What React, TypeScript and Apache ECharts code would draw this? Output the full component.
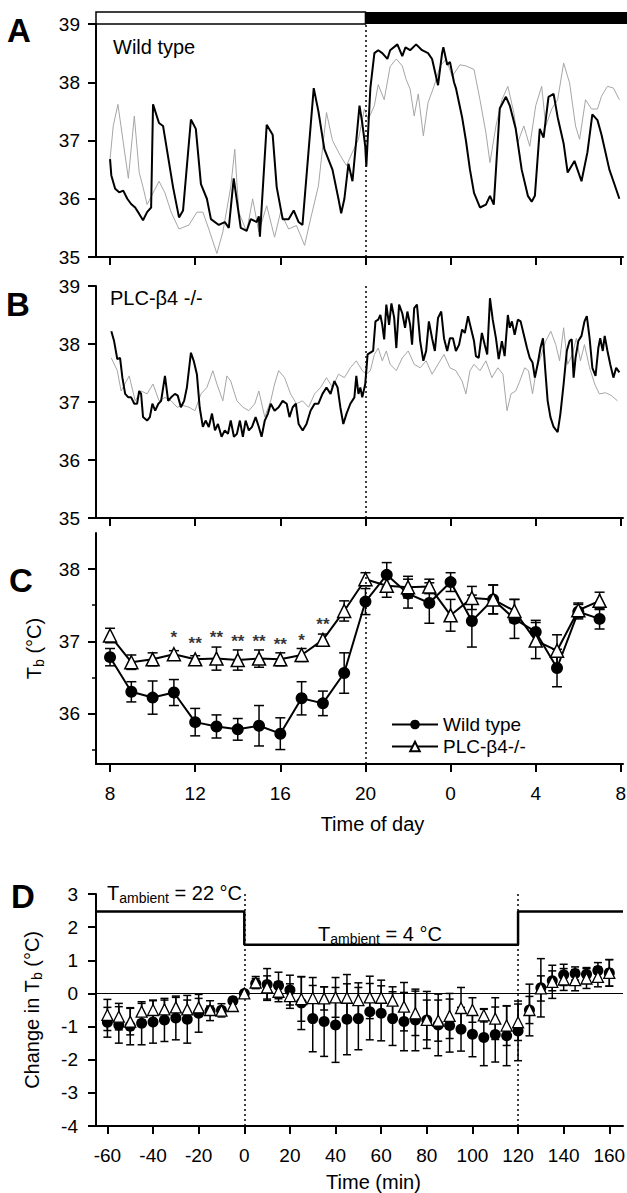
import React, { useEffect, useRef } from "react";
import * as echarts from "echarts";

const FONT = "'Liberation Sans', Arial, Helvetica, sans-serif";

// ---------- Panel A: wild type, two animals (hour of day, Tb °C) ----------
const aBlackTrace: number[][] = [
  [8.0, 36.68], [8.06, 36.4], [8.24, 36.17], [8.43, 36.11], [8.62, 36.14], [8.81, 36.0], [8.99, 35.91], [9.18, 35.85],
  [9.37, 35.74], [9.55, 35.63], [9.74, 35.77], [9.93, 35.85], [10.02, 37.62], [10.3, 37.3], [10.49, 37.25], [10.96, 36.2],
  [11.24, 35.68], [11.43, 35.8], [11.8, 37.36], [12.03, 37.2], [12.27, 36.25], [12.55, 36.0], [12.74, 35.65], [13.11, 35.55],
  [13.39, 35.6], [13.58, 35.5], [13.81, 36.35], [14.14, 35.5], [14.42, 35.45], [14.61, 35.65], [14.89, 35.6], [14.99, 35.7],
  [15.04, 35.35], [15.36, 37.27], [15.64, 37.1], [15.83, 36.2], [16.11, 35.65], [16.39, 35.65], [16.63, 35.8], [16.86, 35.6],
  [17.04, 35.55], [17.57, 37.9], [17.79, 37.5], [18.07, 36.85], [18.45, 36.5], [18.73, 36.0], [18.86, 35.75], [19.01, 36.0],
  [19.2, 36.6], [19.39, 36.3], [19.72, 37.6], [19.85, 37.3], [19.99, 36.9], [20.04, 36.55], [20.23, 37.9], [20.42, 38.5],
  [20.6, 38.55], [20.79, 38.5], [21.03, 38.4], [21.16, 38.55], [21.5, 38.65], [21.73, 38.45], [21.88, 38.6], [22.1, 38.55],
  [22.38, 38.65], [22.66, 38.55], [22.94, 38.5], [23.13, 38.4], [23.41, 37.95], [23.6, 38.5], [23.66, 38.6], [23.84, 38.3],
  [23.97, 38.35], [24.16, 38.0], [24.25, 37.9], [24.54, 37.4], [24.72, 37.0], [24.91, 36.5], [25.1, 36.1], [25.38, 35.85],
  [25.66, 35.9], [25.85, 36.05], [26.03, 35.9], [26.31, 37.55], [26.6, 37.75], [26.78, 37.6], [27.06, 37.2], [27.34, 36.5],
  [27.63, 36.05], [27.81, 35.95], [27.96, 36.05], [28.19, 37.2], [28.37, 37.05], [28.6, 37.75], [28.84, 37.8], [29.03, 37.4],
  [29.31, 36.95], [29.5, 36.45], [29.82, 36.65], [30.15, 36.3], [30.43, 36.8], [30.66, 37.45], [30.9, 37.35], [31.09, 37.1],
  [31.46, 36.5], [31.65, 36.3], [31.93, 36.0],
];
const aGrayTrace: number[][] = [
  [8.0, 36.68], [8.15, 37.25], [8.37, 37.62], [8.62, 36.97], [8.86, 36.35], [9.14, 37.42], [9.37, 36.45], [9.55, 36.2],
  [9.74, 35.9], [10.3, 36.3], [10.58, 36.1], [10.87, 35.77], [11.24, 35.48], [11.71, 35.55], [12.08, 35.77], [12.36, 35.77],
  [12.64, 35.48], [13.02, 35.06], [13.3, 35.43], [13.67, 36.2], [13.86, 36.85], [14.05, 35.77], [14.42, 35.43], [14.7, 36.0],
  [14.99, 35.43], [15.36, 35.88], [15.73, 35.34], [16.01, 35.77], [16.39, 35.48], [16.76, 35.54], [17.14, 35.2], [17.42, 35.65],
  [17.79, 36.22], [18.17, 37.48], [18.45, 37.0], [18.82, 36.74], [19.11, 36.57], [19.39, 36.8], [19.67, 37.02], [19.95, 37.54],
  [20.13, 37.36], [20.42, 37.6], [20.6, 37.96], [20.88, 37.7], [21.16, 38.27], [21.45, 38.4], [21.73, 38.28], [21.91, 38.05],
  [22.1, 37.88], [22.29, 37.42], [22.48, 37.8], [22.72, 37.08], [22.94, 37.65], [23.22, 37.93], [23.51, 38.28], [23.79, 38.4],
  [24.07, 38.1], [24.44, 38.3], [24.72, 38.28], [25.1, 38.22], [25.38, 37.7], [25.66, 37.13], [25.85, 36.62], [26.13, 37.25],
  [26.41, 37.7], [26.69, 37.93], [26.97, 37.48], [27.16, 36.97], [27.44, 37.25], [27.72, 36.9], [28.0, 37.6], [28.28, 37.93],
  [28.47, 37.25], [28.75, 37.54], [29.03, 37.7], [29.31, 38.33], [29.59, 37.99], [29.87, 37.25], [30.06, 37.02], [30.34, 37.7],
  [30.62, 37.54], [30.9, 37.54], [31.09, 37.76], [31.37, 37.93], [31.65, 37.9], [31.93, 37.7],
];

// ---------- Panel B: PLC-β4 -/-, two animals ----------
const bBlackTrace: number[][] = [
  [8.06, 38.22], [8.19, 38.05], [8.34, 37.74], [8.47, 37.76], [8.58, 37.42], [8.71, 37.14], [8.86, 37.08], [8.99, 37.08],
  [9.14, 36.97], [9.27, 36.97], [9.37, 37.19], [9.46, 37.14], [9.55, 36.74], [9.74, 36.68], [9.87, 36.74], [9.99, 36.97],
  [10.12, 36.85], [10.27, 36.97], [10.4, 37.02], [10.58, 37.45], [10.73, 37.02], [10.87, 37.08], [11.05, 37.14], [11.18, 37.11],
  [11.33, 36.91], [11.48, 37.02], [11.61, 37.25], [11.8, 37.85], [11.93, 37.71], [12.08, 37.48], [12.21, 36.91], [12.36, 36.57],
  [12.49, 36.68], [12.64, 36.57], [12.79, 36.8], [12.93, 36.51], [13.07, 36.62], [13.24, 36.4], [13.39, 36.51], [13.54, 36.45],
  [13.67, 36.68], [13.82, 36.4], [13.96, 36.45], [14.1, 36.68], [14.24, 36.4], [14.37, 36.68], [14.52, 36.51], [14.67, 36.57],
  [14.84, 36.74], [14.99, 36.57], [15.12, 36.4], [15.27, 36.68], [15.42, 36.8], [15.55, 36.97], [15.73, 36.85], [15.92, 36.91],
  [16.11, 37.02], [16.3, 36.97], [16.43, 36.74], [16.58, 36.91], [16.73, 36.97], [16.86, 36.62], [17.05, 36.51], [17.23, 36.62],
  [17.42, 36.85], [17.61, 36.97], [17.79, 36.97], [17.98, 37.14], [18.17, 37.25], [18.36, 37.14], [18.54, 37.36], [18.69, 37.25],
  [18.82, 36.91], [18.96, 36.62], [19.11, 36.8], [19.29, 36.97], [19.48, 37.08], [19.57, 37.45], [19.67, 37.14], [19.76, 37.25],
  [19.85, 37.08], [19.99, 37.31], [20.1, 37.82], [20.23, 37.85], [20.36, 37.88], [20.47, 38.39], [20.6, 38.42], [20.7, 38.5],
  [20.79, 38.33], [20.88, 38.08], [20.98, 38.68], [21.11, 38.33], [21.22, 38.7], [21.35, 38.45], [21.45, 37.93], [21.58, 38.68],
  [21.73, 38.53], [21.86, 38.28], [21.97, 38.56], [22.1, 38.33], [22.19, 37.99], [22.29, 38.62], [22.42, 38.68], [22.57, 38.05],
  [22.72, 37.71], [22.85, 37.88], [22.98, 38.39], [23.13, 38.1], [23.26, 37.88], [23.41, 38.45], [23.56, 38.56], [23.69, 38.1],
  [23.84, 37.88], [23.97, 38.1], [24.11, 38.1], [24.25, 37.88], [24.4, 37.99], [24.54, 38.25], [24.67, 38.19], [24.82, 38.48],
  [24.95, 38.28], [25.1, 38.05], [25.19, 37.79], [25.32, 37.76], [25.47, 38.19], [25.6, 37.99], [25.72, 37.82], [25.85, 38.79],
  [25.98, 38.42], [26.13, 38.1], [26.26, 37.74], [26.41, 38.05], [26.54, 37.79], [26.69, 38.5], [26.78, 38.28], [26.88, 38.39],
  [27.01, 38.16], [27.16, 38.42], [27.29, 38.39], [27.44, 38.16], [27.59, 37.93], [27.72, 37.76], [27.85, 37.68], [27.96, 37.42],
  [28.09, 37.65], [28.22, 37.93], [28.34, 38.1], [28.45, 37.54], [28.56, 37.02], [28.69, 36.74], [28.84, 36.57], [29.03, 36.48],
  [29.16, 36.8], [29.31, 37.31], [29.46, 37.88], [29.59, 38.05], [29.69, 38.08], [29.78, 37.42], [29.87, 37.76], [30.0, 38.05],
  [30.15, 38.14], [30.29, 38.39], [30.4, 38.48], [30.53, 38.1], [30.66, 37.59], [30.81, 37.45], [30.94, 37.93], [31.03, 38.1],
  [31.15, 37.88], [31.24, 38.14], [31.37, 37.88], [31.5, 37.65], [31.65, 37.42], [31.78, 37.59], [31.93, 37.51],
];
const bGrayTrace: number[][] = [
  [8.06, 37.76], [8.34, 37.54], [8.52, 37.19], [8.9, 37.45], [9.18, 37.02], [9.46, 37.19], [9.74, 37.14], [10.02, 37.31],
  [10.3, 37.02], [10.58, 37.08], [10.87, 37.02], [11.15, 36.91], [11.43, 36.94], [11.71, 36.91], [11.99, 36.85], [12.27, 37.14],
  [12.55, 37.25], [12.83, 37.54], [13.02, 37.31], [13.3, 37.02], [13.49, 37.45], [13.67, 37.36], [13.96, 37.02], [14.24, 36.91],
  [14.52, 36.85], [14.8, 36.97], [14.99, 37.19], [15.27, 36.74], [15.55, 37.02], [15.73, 37.31], [15.92, 37.54], [16.2, 37.42],
  [16.48, 37.14], [16.76, 36.97], [17.04, 37.02], [17.33, 36.91], [17.61, 37.14], [17.89, 37.25], [18.17, 37.42], [18.45, 37.25],
  [18.73, 37.48], [19.01, 37.42], [19.29, 37.59], [19.57, 37.71], [19.85, 37.54], [20.04, 37.48], [20.23, 37.54], [20.42, 37.82],
  [20.6, 37.93], [20.79, 37.71], [20.98, 37.88], [21.16, 37.65], [21.45, 37.54], [21.73, 37.76], [22.01, 37.88], [22.29, 37.65],
  [22.57, 37.59], [22.85, 37.71], [23.13, 37.48], [23.41, 37.65], [23.69, 37.82], [23.97, 37.59], [24.25, 37.54], [24.54, 37.36],
  [24.72, 37.14], [24.91, 37.54], [25.1, 37.65], [25.38, 37.54], [25.66, 37.71], [25.94, 37.42], [26.22, 37.59], [26.46, 37.48],
  [26.65, 36.85], [26.84, 37.14], [27.06, 37.19], [27.25, 37.36], [27.48, 37.59], [27.66, 37.54], [27.85, 37.14], [28.04, 37.59],
  [28.22, 37.76], [28.47, 38.05], [28.71, 38.22], [28.94, 37.99], [29.12, 37.71], [29.31, 38.28], [29.5, 37.65], [29.72, 37.82],
  [29.91, 38.1], [30.1, 37.71], [30.29, 37.99], [30.53, 37.59], [30.77, 37.31], [30.99, 37.14], [31.28, 37.16], [31.56, 37.11],
  [31.84, 37.02],
];

// ---------- Panel C: hourly means ± SE ----------
const cHours = [8, 9, 10, 11, 12, 13, 14, 15, 16, 17, 18, 19, 20, 21, 22, 23, 24, 25, 26, 27, 28, 29, 30, 31];
const cWildMean = [36.78, 36.3, 36.22, 36.29, 35.88, 35.82, 35.78, 35.83, 35.72, 36.21, 36.14, 36.56, 37.55, 37.92, 37.66, 37.53, 37.82, 37.28, 37.58, 37.31, 37.13, 36.63, 37.41, 37.31];
const cWildSe = [0.12, 0.14, 0.23, 0.18, 0.19, 0.16, 0.15, 0.28, 0.22, 0.23, 0.17, 0.28, 0.18, 0.17, 0.2, 0.28, 0.13, 0.36, 0.2, 0.27, 0.16, 0.26, 0.1, 0.14];
const cPlcMean = [37.08, 36.71, 36.75, 36.82, 36.75, 36.76, 36.74, 36.76, 36.75, 36.81, 37.02, 37.42, 37.86, 37.77, 37.75, 37.76, 37.36, 37.6, 37.58, 37.42, 37.01, 36.87, 37.43, 37.56];
const cPlcSe = [0.1, 0.1, 0.09, 0.05, 0.05, 0.16, 0.14, 0.12, 0.09, 0.09, 0.08, 0.14, 0.09, 0.16, 0.15, 0.1, 0.22, 0.16, 0.2, 0.16, 0.25, 0.22, 0.1, 0.12];
const cStarHours = [11, 12, 13, 14, 15, 16, 17, 18];
const cStarLevel = [37.12, 37.04, 37.12, 37.07, 37.06, 37.03, 37.08, 37.3];
const cStarText = ["*", "**", "**", "**", "**", "**", "*", "**"];
const hourTicks = [8, 12, 16, 20, 24, 28, 32];

// ---------- Panel D: change in Tb around cold exposure ----------
const dMinutes = [-60, -55, -50, -45, -40, -35, -30, -25, -20, -15, -10, -5, 0, 5, 10, 15, 20, 25, 30, 35, 40, 45, 50, 55, 60, 65, 70, 75, 80, 85, 90, 95, 100, 105, 110, 115, 120, 125, 130, 135, 140, 145, 150, 155, 160];
const dWildMean = [-0.87, -0.95, -0.99, -0.9, -0.86, -0.8, -0.74, -0.78, -0.6, -0.52, -0.51, -0.22, 0, 0.3, 0.27, 0.24, 0.1, -0.29, -0.76, -0.85, -0.95, -0.78, -0.76, -0.55, -0.6, -0.76, -0.85, -0.8, -0.8, -0.95, -0.97, -1.08, -1.23, -1.33, -1.24, -1.28, -1.13, -0.5, 0.17, 0.38, 0.56, 0.6, 0.58, 0.69, 0.62];
const dWildSe = [0.45, 0.55, 0.56, 0.65, 0.64, 0.65, 0.66, 0.72, 0.57, 0.3, 0.2, 0.1, 0, 0.15, 0.48, 0.4, 0.45, 0.8, 1.0, 1.05, 1.13, 1.07, 0.94, 0.85, 0.83, 0.81, 0.88, 0.93, 0.86, 0.93, 0.8, 0.66, 0.68, 0.85, 0.83, 0.9, 0.9, 0.78, 0.88, 0.3, 0.32, 0.2, 0.2, 0.24, 0.4];
const dPlcMean = [-0.65, -0.7, -0.85, -0.55, -0.5, -0.48, -0.42, -0.48, -0.42, -0.5, -0.52, -0.38, 0, 0.33, 0.18, 0.05, -0.08, -0.17, -0.14, -0.15, -0.12, -0.13, -0.2, -0.12, -0.13, -0.22, -0.4, -0.6, -0.8, -0.82, -0.68, -0.44, -0.5, -0.66, -0.76, -0.97, -0.87, -0.5, 0.15, 0.35, 0.42, 0.4, 0.45, 0.5, 0.62];
const dPlcSe = [0.47, 0.4, 0.4, 0.25, 0.3, 0.28, 0.3, 0.28, 0.27, 0.12, 0.1, 0.15, 0, 0.18, 0.35, 0.3, 0.37, 0.67, 0.62, 0.35, 0.6, 0.7, 0.52, 0.64, 0.53, 0.42, 0.73, 0.67, 0.6, 0.62, 0.68, 0.62, 0.37, 0.2, 0.63, 0.6, 0.55, 0.41, 0.38, 0.5, 0.33, 0.32, 0.3, 0.3, 0.4];
const ambientMinutes = [-65, 0, 0, 120, 120, 166];
const ambientLevel = [2.47, 2.47, 1.47, 1.47, 2.47, 2.47];
const minuteTicks = [-60, -40, -20, 0, 20, 40, 60, 80, 100, 120, 140, 160];

const LEGEND_WT = "Wild type";
const LEGEND_KO = "PLC-β4-/-";

const errorBars = (capHalf: number) => (params: any, api: any) => {
  const x = api.value(0);
  const m = api.value(1);
  const s = api.value(2);
  if (!s) return { type: "group", children: [] };
  const hi = api.coord([x, m + s]);
  const lo = api.coord([x, m - s]);
  const style = { stroke: "#000", lineWidth: 1.5 };
  return {
    type: "group",
    children: [
      { type: "line", shape: { x1: hi[0], y1: hi[1], x2: lo[0], y2: lo[1] }, style },
      { type: "line", shape: { x1: hi[0] - capHalf, y1: hi[1], x2: hi[0] + capHalf, y2: hi[1] }, style },
      { type: "line", shape: { x1: lo[0] - capHalf, y1: lo[1], x2: lo[0] + capHalf, y2: lo[1] }, style },
    ],
  };
};

const axisLineStyle = { color: "#000", width: 2 };

function hourAxis(gridIndex: number, labels: boolean, extra: any = {}) {
  return {
    type: "value",
    gridIndex,
    min: 7.34,
    max: 32.1,
    axisLine: { show: true, onZero: false, lineStyle: axisLineStyle },
    axisTick: { show: true, customValues: hourTicks, length: 8, lineStyle: { color: "#000", width: 2 } },
    axisLabel: labels
      ? { show: true, customValues: hourTicks, formatter: (v: number) => String(v % 24), fontSize: 19, fontFamily: FONT, color: "#000", margin: 20 }
      : { show: false },
    splitLine: { show: false },
    ...extra,
  };
}

function tempAxis(gridIndex: number, min: number, max: number, extra: any = {}) {
  return {
    type: "value",
    gridIndex,
    position: "left",
    min,
    max,
    interval: 1,
    axisLine: { show: true, onZero: false, lineStyle: axisLineStyle },
    axisTick: { show: true, length: 8, lineStyle: { color: "#000", width: 2 } },
    axisLabel: { fontSize: 19, fontFamily: FONT, color: "#000", margin: 16 },
    splitLine: { show: false },
    ...extra,
  };
}

const dottedMark = (segments: number[][][]) => ({
  silent: true,
  symbol: ["none", "none"],
  label: { show: false },
  lineStyle: { color: "#000", width: 1.5, type: [2, 3] },
  data: segments.map((s) => [{ coord: s[0] }, { coord: s[1] }]),
});

const subRich = {
  t: { fontSize: 20, fontFamily: FONT, color: "#000", lineHeight: 24 },
  s: { fontSize: 14, fontFamily: FONT, color: "#000", lineHeight: 14, verticalAlign: "bottom" },
};

export default function App() {
  const ref = useRef<HTMLDivElement>(null);

  useEffect(() => {
    if (!ref.current) return;
    const chart = echarts.init(ref.current, null, { renderer: "svg" });

    const option: any = {
      animation: false,
      backgroundColor: "#fff",
      textStyle: { fontFamily: FONT, color: "#000" },
      grid: [
        { left: 96, top: 24, width: 527, height: 233, outerBoundsMode: "none" },
        { left: 96, top: 286, width: 527, height: 232, outerBoundsMode: "none" },
        { left: 96, top: 533, width: 527, height: 231, outerBoundsMode: "none" },
        { left: 96, top: 894, width: 527, height: 232, outerBoundsMode: "none" },
      ],
      xAxis: [
        hourAxis(0, false),
        hourAxis(1, false),
        hourAxis(2, true, {
          name: "Time of day",
          nameLocation: "middle",
          nameGap: 50,
          nameTextStyle: { fontSize: 20, fontFamily: FONT, color: "#000", padding: [0, 0, 0, 26] },
        }),
        {
          type: "value",
          gridIndex: 3,
          min: -65,
          max: 166,
          axisLine: { show: true, onZero: false, lineStyle: axisLineStyle },
          axisTick: { show: true, customValues: minuteTicks, length: 8, lineStyle: { color: "#000", width: 2 } },
          axisLabel: { show: true, customValues: minuteTicks, fontSize: 19, fontFamily: FONT, color: "#000", margin: 20 },
          splitLine: { show: false },
          name: "Time (min)",
          nameLocation: "middle",
          nameGap: 46,
          nameTextStyle: { fontSize: 20, fontFamily: FONT, color: "#000", padding: [0, 0, 0, 28] },
        },
      ],
      yAxis: [
        tempAxis(0, 35, 39),
        tempAxis(1, 35, 39),
        {
          type: "value",
          gridIndex: 2,
          position: "left",
          min: 35.3,
          max: 38.5,
          axisLine: { show: true, onZero: false, lineStyle: axisLineStyle },
          axisTick: { show: true, customValues: [36, 37, 38], length: 8, lineStyle: { color: "#000", width: 2 } },
          axisLabel: { show: true, customValues: [36, 37, 38], fontSize: 19, fontFamily: FONT, color: "#000", margin: 16 },
          splitLine: { show: false },
          name: "{t|T}{s|b}{t| (°C)}",
          nameLocation: "middle",
          nameGap: 50,
          nameTextStyle: { rich: subRich },
        },
        tempAxis(3, -4, 3, {
          axisLabel: { fontSize: 19, fontFamily: FONT, color: "#000", margin: 18 },
          name: "{t|Change in T}{s|b}{t| (°C)}",
          nameLocation: "middle",
          nameGap: 52,
          nameTextStyle: { rich: subRich },
        }),
        {
          type: "value",
          gridIndex: 2,
          position: "left",
          offset: 0,
          min: 35.3,
          max: 38.5,
          axisLine: { show: false, onZero: false },
          axisTick: { show: true, customValues: [35.5, 36.5, 37.5], length: 4, lineStyle: { color: "#000", width: 1.5 } },
          axisLabel: { show: false },
          splitLine: { show: false },
        },
      ],
      legend: {
        data: [LEGEND_WT, LEGEND_KO],
        orient: "vertical",
        left: 386,
        top: 710,
        itemWidth: 46,
        itemHeight: 12,
        itemGap: 3,
        selectedMode: false,
        textStyle: { fontSize: 19, fontFamily: FONT, color: "#000" },
      },
      series: [
        // Panel A
        {
          type: "line", xAxisIndex: 0, yAxisIndex: 0, data: aGrayTrace, showSymbol: false, symbol: "none",
          lineStyle: { color: "#a6a6a6", width: 1 }, z: 1, silent: true,
        },
        {
          type: "line", xAxisIndex: 0, yAxisIndex: 0, data: aBlackTrace, showSymbol: false, symbol: "none",
          lineStyle: { color: "#000", width: 2 }, z: 2, silent: true,
          markLine: dottedMark([[[20, 35], [20, 39]]]),
        },
        // Panel B
        {
          type: "line", xAxisIndex: 1, yAxisIndex: 1, data: bGrayTrace, showSymbol: false, symbol: "none",
          lineStyle: { color: "#a6a6a6", width: 1 }, z: 1, silent: true,
        },
        {
          type: "line", xAxisIndex: 1, yAxisIndex: 1, data: bBlackTrace, showSymbol: false, symbol: "none",
          lineStyle: { color: "#000", width: 2 }, z: 2, silent: true,
          markLine: dottedMark([[[20, 35], [20, 39]]]),
        },
        // Panel C
        {
          type: "custom", xAxisIndex: 2, yAxisIndex: 2, renderItem: errorBars(5),
          data: cHours.map((h, i) => [h, cWildMean[i], cWildSe[i]]), encode: { x: 0, y: 1 }, z: 1, silent: true,
        },
        {
          type: "custom", xAxisIndex: 2, yAxisIndex: 2, renderItem: errorBars(5),
          data: cHours.map((h, i) => [h, cPlcMean[i], cPlcSe[i]]), encode: { x: 0, y: 1 }, z: 1, silent: true,
        },
        {
          name: LEGEND_WT, type: "line", xAxisIndex: 2, yAxisIndex: 2,
          data: cHours.map((h, i) => [h, cWildMean[i]]),
          symbol: "circle", symbolSize: 12, showSymbol: true,
          lineStyle: { color: "#000", width: 2 }, itemStyle: { color: "#000", opacity: 1 }, z: 3, silent: true,
          markLine: dottedMark([[[20, 35.3], [20, 38.0]]]),
        },
        {
          name: LEGEND_KO, type: "line", xAxisIndex: 2, yAxisIndex: 2,
          data: cHours.map((h, i) => [h, cPlcMean[i]]),
          symbol: "triangle", symbolSize: 13, showSymbol: true,
          lineStyle: { color: "#000", width: 2 },
          itemStyle: { color: "#fff", borderColor: "#000", borderWidth: 1.5, opacity: 1 }, z: 4, silent: true,
        },
        {
          type: "scatter", xAxisIndex: 2, yAxisIndex: 2,
          data: cStarHours.map((h, i) => [h, cStarLevel[i], cStarText[i]]),
          symbolSize: 1, itemStyle: { color: "rgba(0,0,0,0)" }, silent: true, z: 5,
          label: {
            show: true, position: "inside", offset: [0, 5], fontSize: 17, fontWeight: "bold", fontFamily: FONT, color: "#000",
            formatter: (p: any) => p.data[2],
          },
        },
        // Panel D
        {
          type: "line", xAxisIndex: 3, yAxisIndex: 3,
          data: ambientMinutes.map((t, i) => [t, ambientLevel[i]]),
          symbol: "none", showSymbol: false, lineStyle: { color: "#000", width: 2.5 }, z: 2, silent: true,
          markLine: {
            silent: true,
            symbol: ["none", "none"],
            label: { show: false },
            data: [
              [{ coord: [0, -4], lineStyle: { color: "#000", width: 1.5, type: [2, 3] } }, { coord: [0, 3] }],
              [{ coord: [120, -4], lineStyle: { color: "#000", width: 1.5, type: [2, 3] } }, { coord: [120, 3] }],
              [{ coord: [-65, 0], lineStyle: { color: "#000", width: 1.2, type: "solid" } }, { coord: [166, 0] }],
            ],
          },
        },
        {
          type: "custom", xAxisIndex: 3, yAxisIndex: 3, renderItem: errorBars(4),
          data: dMinutes.map((t, i) => [t, dWildMean[i], dWildSe[i]]), encode: { x: 0, y: 1 }, z: 3, silent: true,
        },
        {
          type: "custom", xAxisIndex: 3, yAxisIndex: 3, renderItem: errorBars(4),
          data: dMinutes.map((t, i) => [t, dPlcMean[i], dPlcSe[i]]), encode: { x: 0, y: 1 }, z: 3, silent: true,
        },
        {
          type: "scatter", xAxisIndex: 3, yAxisIndex: 3,
          data: dMinutes.map((t, i) => [t, dWildMean[i]]),
          symbol: "circle", symbolSize: 11, itemStyle: { color: "#000", opacity: 1 }, z: 4, silent: true,
        },
        {
          type: "scatter", xAxisIndex: 3, yAxisIndex: 3,
          data: dMinutes.map((t, i) => [t, dPlcMean[i]]),
          symbol: "triangle", symbolSize: 11,
          itemStyle: { color: "#fff", borderColor: "#000", borderWidth: 1.3, opacity: 1 }, z: 5, silent: true,
        },
      ],
    };

    chart.setOption(option);

    const pL = chart.convertToPixel({ xAxisIndex: 0, yAxisIndex: 0 }, [7.34, 39]) as number[];
    const p20 = chart.convertToPixel({ xAxisIndex: 0, yAxisIndex: 0 }, [20, 39]) as number[];
    const pR = chart.convertToPixel({ xAxisIndex: 0, yAxisIndex: 0 }, [32.1, 39]) as number[];
    const barH = 12;

    const letter = (text: string, x: number, y: number) => ({
      type: "text", x, y, silent: true,
      style: { text, fontSize: 33, fontWeight: "bold", fontFamily: FONT, fill: "#000", align: "left", verticalAlign: "middle" },
    });
    const plain = (text: string, x: number, y: number) => ({
      type: "text", x, y, silent: true,
      style: { text, fontSize: 20, fontFamily: FONT, fill: "#000", align: "left", verticalAlign: "middle" },
    });
    const ambient = (value: string, x: number, y: number) => ({
      type: "text", x, y, silent: true,
      style: {
        text: `{t|T}{s|ambient}{t| = ${value} °C}`,
        fill: "#000",
        align: "left",
        verticalAlign: "middle",
        rich: {
          t: { fontSize: 20, fontFamily: FONT, fill: "#000", lineHeight: 24 },
          s: { fontSize: 14, fontFamily: FONT, fill: "#000", lineHeight: 14, verticalAlign: "bottom" },
        },
      },
    });

    chart.setOption({
      graphic: [
        {
          type: "rect", silent: true,
          shape: { x: pL[0], y: pL[1] - barH, width: p20[0] - pL[0], height: barH },
          style: { fill: "#fff", stroke: "#000", lineWidth: 1.5 },
        },
        {
          type: "rect", silent: true,
          shape: { x: p20[0], y: pL[1] - barH, width: pR[0] + 4 - p20[0], height: barH },
          style: { fill: "#000" },
        },
        letter("A", 7, 30),
        letter("B", 6, 304),
        letter("C", 9, 580),
        letter("D", 11, 896),
        plain("Wild type", 113, 47),
        plain("PLC-β4 -/-", 110, 298),
        ambient("22", 107, 893),
        ambient("4", 318, 934),
      ],
    });

    return () => chart.dispose();
  }, []);

  return (
    <div
      ref={ref}
      style={{ position: "absolute", left: 0, top: 0, width: 627, height: 1193, background: "#fff" }}
    />
  );
}
